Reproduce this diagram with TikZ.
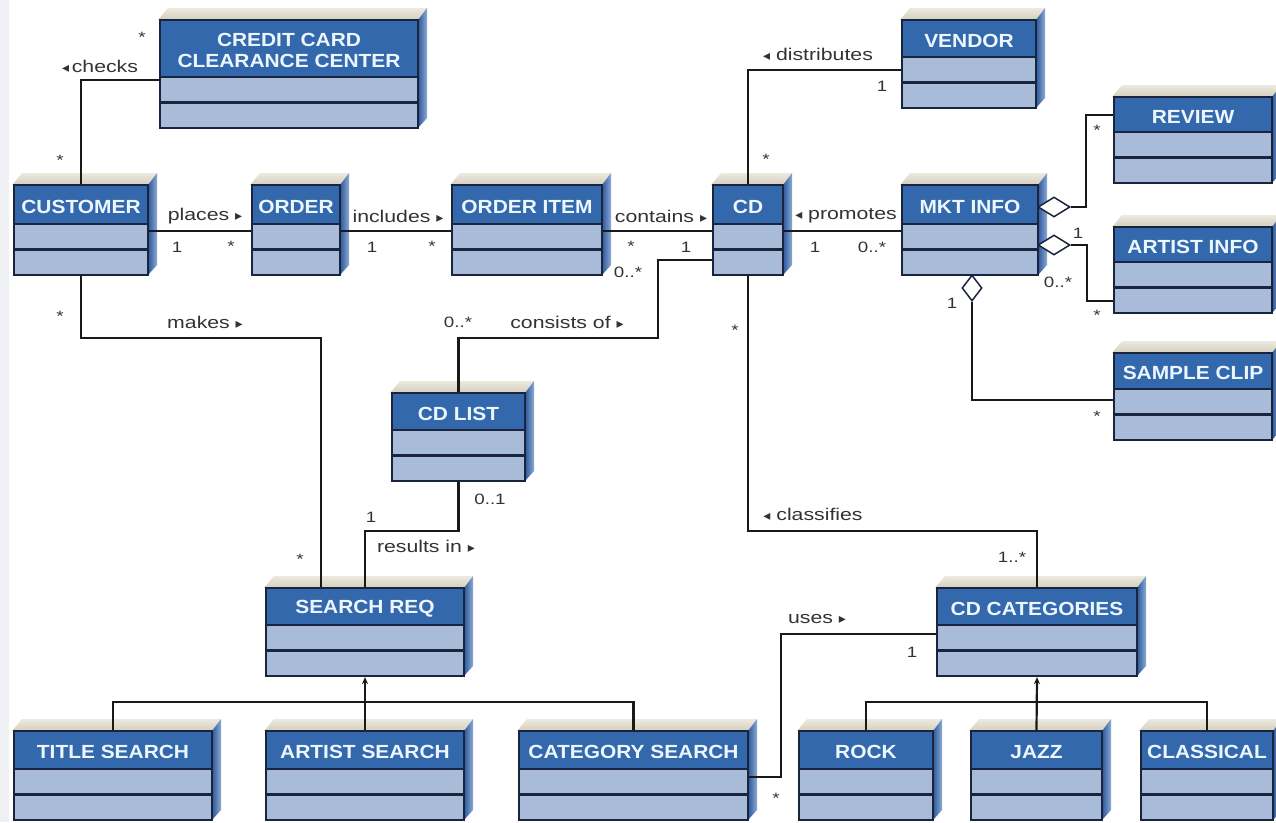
\documentclass[tikz,border=0pt]{standalone}
\usepackage{fontspec}
\setmainfont{Liberation Sans}
\newfontfamily\titlef[FakeStretch=1.1]{Liberation Sans}
\newfontfamily\lblf[FakeStretch=1.25]{Liberation Sans}
\newfontfamily\symf{DejaVu Sans}
\usetikzlibrary{shapes.geometric,arrows.meta,calc}
\definecolor{hdrblue}{RGB}{52,104,172}
\definecolor{rowblue}{RGB}{168,187,217}
\definecolor{edgec}{RGB}{26,36,60}
\definecolor{sideA}{RGB}{44,88,155}
\definecolor{sideB}{RGB}{140,170,212}
\definecolor{topface}{RGB}{212,206,188}
\definecolor{topfaceB}{RGB}{236,233,224}
\definecolor{titletxt}{RGB}{236,246,255}
\definecolor{stripc}{RGB}{238,240,243}
\newcommand\rtri{{\symf\fontsize{14}{14}\selectfont\char"25B8}}
\newcommand\ltri{{\symf\fontsize{14}{14}\selectfont\char"25C2}}
\tikzset{
  classnode/.style={rectangle,draw=edgec,line width=2.2pt,inner sep=0pt},
  titletext/.style={text=titletxt,font=\titlef\bfseries\fontsize{19}{21}\selectfont,align=center,inner sep=0pt},
  divline/.style={draw=edgec,line width=2.2pt},
  conn/.style={draw=black!90,line width=2.2pt},
  lbl/.style={font=\lblf\fontsize{17}{19}\selectfont,inner sep=0pt,text=black!80},
  mult/.style={font=\lblf\fontsize{15}{17}\selectfont,inner sep=0pt,text=black!80},
  agg/.style={diamond,draw=edgec,line width=1.5pt,fill=white,inner sep=0pt},
  gentip/.style={-{Stealth[length=7pt,width=6pt]}}
}
\newcommand\umlbox[6]{%
  \pgfmathsetmacro\ubH{#5-51}%
  \pgfmathsetmacro\ubW{#4-#2}%
  \pgfmathsetmacro\ubHt{#5-#3}%
  \shade[top color=topfaceB,bottom color=topface] (#2-2,#3) -- (#2+8,#3-12) -- (#4+9,#3-12) -- (#4,#3) -- cycle;
  \shade[left color=sideA,right color=sideB] (#4,#3) -- (#4+9,#3-12) -- (#4+9,#5-10) -- (#4,#5) -- cycle;
  \fill[rowblue] (#2,\ubH) rectangle (#4,#5);
  \fill[hdrblue] (#2,#3) rectangle (#4,\ubH);
  \draw[divline] (#2,\ubH) -- (#4,\ubH) (#2,#5-25.5) -- (#4,#5-25.5);
  \node[classnode,minimum width=\ubW pt,minimum height=\ubHt pt] (#1) at ({(#2+#4)/2},{(#3+#5)/2}) {};
  \node[titletext] (#1-t) at ({(#2+#4)/2},{(#3+\ubH)/2+2}) {#6};
}
\begin{document}
\begin{tikzpicture}[x=1pt,y=-1pt]
\useasboundingbox (0,0) rectangle (1276,822);
\fill[white] (0,0) rectangle (1276,822);
\fill[stripc] (0,0) rectangle (9,822);

% classes
\umlbox{cccc}{160}{20}{418}{128}{CREDIT CARD\\CLEARANCE CENTER}
\umlbox{customer}{14}{185}{148}{275}{CUSTOMER}
\umlbox{order}{252}{185}{340}{275}{ORDER}
\umlbox{orderitem}{452}{185}{602}{275}{ORDER ITEM}
\umlbox{cd}{713}{185}{783}{275}{CD}
\umlbox{vendor}{902}{20}{1036}{108}{VENDOR}
\umlbox{mkt}{902}{185}{1038}{275}{MKT INFO}
\umlbox{review}{1114}{97}{1272}{183}{REVIEW}
\umlbox{artist}{1114}{227}{1272}{313}{ARTIST INFO}
\umlbox{sample}{1114}{353}{1272}{440}{SAMPLE CLIP}
\umlbox{cdlist}{392}{393}{525}{481}{CD LIST}
\umlbox{searchreq}{266}{588}{464}{676}{SEARCH REQ}
\umlbox{cdcat}{937}{588}{1137}{676}{CD CATEGORIES}
\umlbox{titlesearch}{14}{731}{212}{820}{TITLE SEARCH}
\umlbox{artistsearch}{266}{731}{464}{820}{ARTIST SEARCH}
\umlbox{catsearch}{519}{731}{748}{820}{CATEGORY SEARCH}
\umlbox{rock}{799}{731}{933}{820}{ROCK}
\umlbox{jazz}{971}{731}{1102}{820}{JAZZ}
\umlbox{classical}{1141}{731}{1273}{820}{CLASSICAL}

% aggregation diamonds
\node[agg,minimum width=32pt,minimum height=20pt] (d1) at (1054,207) {};
\node[agg,minimum width=32pt,minimum height=20pt] (d2) at (1054,245) {};
\node[agg,minimum width=20pt,minimum height=26pt] (d3) at (972,288) {};

% connectors
\draw[conn] (customer.north) |- (cccc.west |- 0,80);
\draw[conn] (customer.east |- 0,231) -- (order.west |- 0,231);
\draw[conn] (order.east |- 0,231) -- (orderitem.west |- 0,231);
\draw[conn] (orderitem.east |- 0,231) -- (cd.west |- 0,231);
\draw[conn] (cd.east |- 0,231) -- (mkt.west |- 0,231);
\draw[conn] (cd.north) |- (vendor.west |- 0,70);
\draw[conn] (d1.east) -- ++(15,0) |- (review.west |- 0,115);
\draw[conn] (d2.east) -- ++(16,0) |- (artist.west |- 0,301);
\draw[conn] (d3.south) |- (sample.west |- 0,400);
\draw[conn] (cd.west |- 0,260) -| (658,338) -| (cdlist.north);
\draw[conn] (customer.south) |- (321,338) -- (searchreq.north -| 321,0);
\draw[conn] (cdlist.south) |- (365,531) -- (searchreq.north -| 365,0);
\draw[conn] (cd.south) |- (cdcat.north |- 0,531) -- (cdcat.north);
\draw[conn] (catsearch.east |- 0,777) -| (781,634) -- (cdcat.west |- 0,634);
\draw[conn] (titlesearch.north) |- (catsearch.north |- 0,702) -- (catsearch.north);
\draw[conn,gentip] (artistsearch.north) -- (searchreq.south);
\draw[conn] (rock.north) |- (classical.north |- 0,702) -- (classical.north);
\draw[conn,gentip] (jazz.north) -- (cdcat.south);

% association labels
\node[lbl] (lchecks) at (100,66) {\ltri\,checks};
\node[lbl] (lplaces) at (205,216) {places \rtri};
\node[lbl] (lincl) at (398,216) {includes \rtri};
\node[lbl] (lcont) at (661,216) {contains \rtri};
\node[lbl] (lprom) at (846,216) {\ltri\ promotes};
\node[lbl] (ldist) at (818,54) {\ltri\ distributes};
\node[lbl] (lcons) at (567,322) {consists of \rtri};
\node[lbl] (lmakes) at (205,322) {makes \rtri};
\node[lbl] (lres) at (426,546) {results in \rtri};
\node[lbl] (lclass) at (813,514) {\ltri\ classifies};
\node[lbl] (luses) at (817,619) {uses \rtri};

% multiplicities
\node[mult] (m1) at (142,37) {*};
\node[mult] (m2) at (60,160) {*};
\node[mult] (m3) at (177,247) {1};
\node[mult] (m4) at (231,246) {*};
\node[mult] (m5) at (372,247) {1};
\node[mult] (m6) at (432,246) {*};
\node[mult] (m7) at (631,246) {*};
\node[mult] (m8) at (686,247) {1};
\node[mult] (m9) at (815,247) {1};
\node[mult] (m10) at (872,247) {0..*};
\node[mult] (m11) at (766,159) {*};
\node[mult] (m12) at (882,86) {1};
\node[mult] (m13) at (1097,130) {*};
\node[mult] (m14) at (1078,233) {1};
\node[mult] (m15) at (1058,282) {0..*};
\node[mult] (m16) at (1097,315) {*};
\node[mult] (m17) at (952,303) {1};
\node[mult] (m18) at (1097,416) {*};
\node[mult] (m19) at (628,272) {0..*};
\node[mult] (m20) at (458,322) {0..*};
\node[mult] (m21) at (60,316) {*};
\node[mult] (m22) at (300,559) {*};
\node[mult] (m23) at (490,499) {0..1};
\node[mult] (m24) at (371,517) {1};
\node[mult] (m25) at (735,330) {*};
\node[mult] (m26) at (1012,557) {1..*};
\node[mult] (m27) at (912,652) {1};
\node[mult] (m28) at (776,798) {*};
\end{tikzpicture}
\end{document}
